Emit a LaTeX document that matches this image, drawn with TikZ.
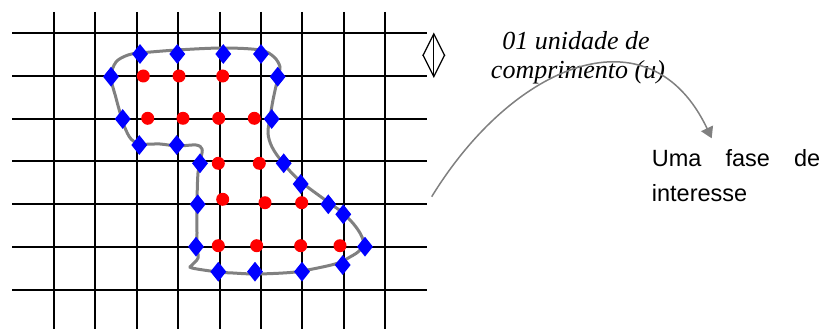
\documentclass[tikz,border=0pt]{standalone}
\usepackage{fontspec}
\setmainfont{Liberation Serif}
\newfontfamily\sansf{Liberation Sans}
\usetikzlibrary{shapes.geometric,arrows.meta}
\definecolor{blobgray}{RGB}{128,128,128}
\definecolor{dmdblue}{RGB}{0,0,255}
\definecolor{dotred}{RGB}{255,0,0}
\tikzset{
  gridline/.style={line width=2pt,black},
  blob/.style={line width=3pt,blobgray},
  dmd/.style={diamond,fill=dmdblue,inner sep=0pt,minimum width=16pt,minimum height=20pt,aspect=0.8},
  rdot/.style={circle,fill=dotred,inner sep=0pt,minimum size=13pt},
  itext/.style={font=\fontsize{26}{28}\selectfont\itshape,inner sep=0pt,anchor=base},
  stext/.style={font=\sansf\fontsize{23.5}{35}\selectfont,inner sep=0pt,anchor=base west},
  pointer/.style={line width=1.5pt,blobgray,-{Triangle[length=11pt,width=13pt]}},
  unitarrow/.style={line width=1.2pt,black,{Straight Barb[length=22pt,width=22pt]}-{Straight Barb[length=22pt,width=22pt]}}
}
\begin{document}
\begin{tikzpicture}[x=1pt,y=-1pt]
\useasboundingbox (0,0) rectangle (823,329);
% grid
\foreach \i in {0,...,8} {
  \draw[gridline] ({54+41.375*\i},12) -- ({54+41.375*\i},329);
}
\foreach \j in {0,...,6} {
  \draw[gridline] (12,{33.3+42.73*\j}) -- (427,{33.3+42.73*\j});
}
% phase outline
\draw[blob] plot[smooth cycle,tension=0.55] coordinates {
 (111,77) (116,62) (128,55) (140,53) (177,50) (223,48) (260,50) (274,57) (280,67)
 (278,77) (273,100) (270,118) (268,133) (272,147) (283,163) (300,181)
 (328,202) (343,213) (356,227) (363,240) (360,250) (350,257) (335,264)
 (302,271) (283,273) (255,274) (233,273) (218,272) (192,268) (192,265) (198,258)
 (197,247) (197,233) (197,203) (198,173) (201,158) (202,149) (196,145) (177,146)
 (160,144) (140,144) (131,139) (125,128) (121,116) (116,98)};
% boundary markers
\node[dmd] (d1) at (140,54) {};
\node[dmd] (d2) at (177.3,54) {};
\node[dmd] (d3) at (223.3,54) {};
\node[dmd] (d4) at (261,54) {};
\node[dmd] (d5) at (111,76.7) {};
\node[dmd] (d6) at (277.7,76.7) {};
\node[dmd] (d7) at (122.7,119) {};
\node[dmd] (d8) at (271.7,119) {};
\node[dmd] (d9) at (139.3,145) {};
\node[dmd] (d10) at (176.7,145) {};
\node[dmd] (d11) at (200,163.3) {};
\node[dmd] (d12) at (283.7,163.3) {};
\node[dmd] (d13) at (300.7,184) {};
\node[dmd] (d14) at (197.7,204.3) {};
\node[dmd] (d15) at (328.3,204.3) {};
\node[dmd] (d16) at (343.3,214.3) {};
\node[dmd] (d17) at (196,246.7) {};
\node[dmd] (d18) at (365,246.7) {};
\node[dmd] (d19) at (342.7,265) {};
\node[dmd] (d20) at (218.3,271.7) {};
\node[dmd] (d21) at (255,271.7) {};
\node[dmd] (d22) at (302,271.7) {};
% interior markers
\node[rdot] (r1) at (143.3,76) {};
\node[rdot] (r2) at (179,76) {};
\node[rdot] (r3) at (222.7,76) {};
\node[rdot] (r4) at (147.7,118.3) {};
\node[rdot] (r5) at (183,118.3) {};
\node[rdot] (r6) at (218.7,118.3) {};
\node[rdot] (r7) at (254.3,118.3) {};
\node[rdot] (r8) at (218.3,163.3) {};
\node[rdot] (r9) at (259.3,163.3) {};
\node[rdot] (r10) at (222.7,199.3) {};
\node[rdot] (r11) at (265,202.7) {};
\node[rdot] (r12) at (301.7,202.7) {};
\node[rdot] (r13) at (218.3,245.7) {};
\node[rdot] (r14) at (256.7,245.7) {};
\node[rdot] (r15) at (300.7,245.7) {};
\node[rdot] (r16) at (340,245.7) {};
% unit length arrow
\coordinate (ut) at (433.8,32.5);
\coordinate (ub) at (433.8,78);
\draw[unitarrow] (ut) -- (ub);
% labels
\node[itext] (u1) at (576,50) {01 unidade de};
\node[itext] (u2) at (578,78.3) {comprimento (u)};
\node[stext] (f1) at (651.7,166.7) {\makebox[168.3pt][s]{Uma fase de}};
\node[stext] (f2) at (651.7,201.7) {interesse};
% pointer
\coordinate (ps) at (431.7,196.7);
\coordinate (pe) at (711.7,138.3);
\draw[pointer] (ps) .. controls (515,61) and (650.5,9) .. (pe);
\end{tikzpicture}
\end{document}
